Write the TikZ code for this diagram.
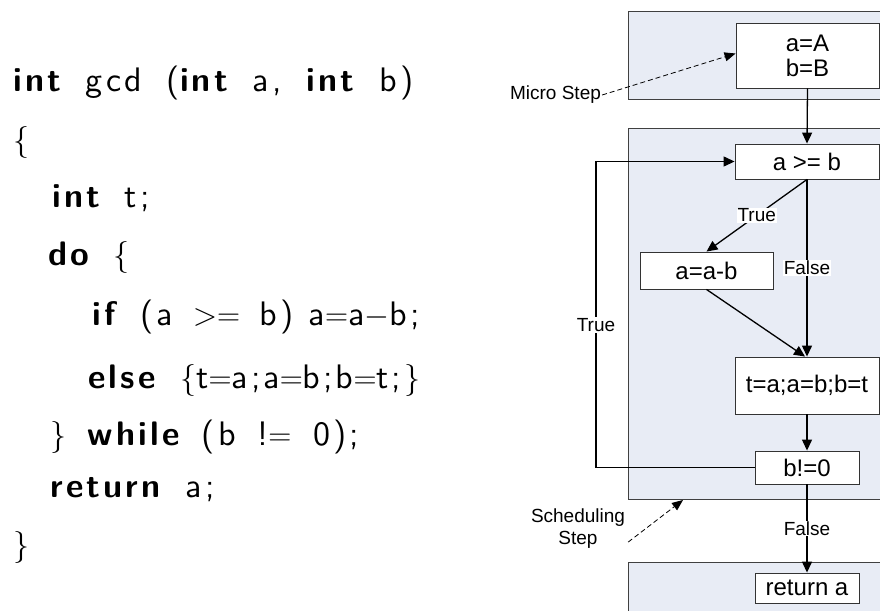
\RequirePackage{fix-cm}
\documentclass[tikz,border=0pt]{standalone}
\usepackage{fontspec}
\setsansfont{Liberation Sans}
\newfontfamily\codefont{lmsans10}[Extension=.otf, UprightFont=*-regular, BoldFont=*-bold, LetterSpace=9.5, WordSpace=1.7]
\newcommand{\mth}[1]{{\fontsize{32}{36}\selectfont$#1$}}
\newcommand{\semi}{\kern3pt;\kern3pt}
\usetikzlibrary{arrows.meta}
\definecolor{panelfill}{HTML}{E8ECF5}
\tikzset{
  panel/.style={draw=black!75, line width=0.9pt, fill=panelfill},
  stmt/.style={draw=black!80, line width=0.9pt, fill=white, font=\sffamily\fontsize{24}{27}\selectfont, inner sep=0pt, align=center},
  conn/.style={line width=1.3pt, -{Triangle[length=11pt,width=10pt]}},
  lbl/.style={fill=white, inner sep=1pt, font=\sffamily\fontsize{19}{22}\selectfont, align=center},
  note/.style={line width=0.8pt, dash pattern=on 5pt off 3pt, -{Triangle[length=11pt,width=9pt]}},
  codeline/.style={anchor=base west, inner sep=0pt, font=\codefont\fontsize{34}{39}\selectfont}
}
\begin{document}
\begin{tikzpicture}[x=1pt,y=-1pt]
\useasboundingbox (0,0) rectangle (880,610);
% code listing
\node[codeline] (l1) at (13,92) {{\bfseries int} gcd ({\bfseries int} a, {\bfseries int} b)};
\node[codeline] (l2) at (13,150) {\mth{\{}};
\node[codeline] (l3) at (52,207) {{\bfseries int} t;};
\node[codeline] (l4) at (48,265) {{\bfseries do} \mth{\{}};
\node[codeline] (l5) at (92,325) {{\bfseries if} (a \kern-5pt\mth{>=} \kern-5pt b) \kern-10pt a\mth{=}a\mth{-}b;};
\node[codeline] (l6) at (88,388) {{\bfseries else} \mth{\{}t\mth{=}a\semi a\mth{=}b\semi b\mth{=}t\semi\mth{\}}};
\node[codeline] (l7) at (50,445) {\mth{\}} \kern-3pt{\bfseries while} \kern-3pt(b \kern-3pt!\mth{=} \kern-3pt0);};
\node[codeline] (l8) at (50,497) {{\bfseries return} a;};
\node[codeline] (l9) at (13,555) {\mth{\}}};
% panels
\begin{scope}
\clip (0,0) rectangle (880,610);
\draw[panel] (628,11) rectangle (900,99);
\draw[panel] (628,128) rectangle (900,499);
\draw[panel] (628,562) rectangle (900,630);
\end{scope}
% statements
\node[stmt, minimum width=143pt, minimum height=65pt] (A) at (807.5,55.5) {a=A\\[-2pt]b=B};
\node[stmt, minimum width=144pt, minimum height=35pt] (ab) at (807,161.5) {a >= b};
\node[stmt, minimum width=133pt, minimum height=37pt] (amb) at (706.5,270.5) {a=a-b};
\node[stmt, minimum width=144pt, minimum height=57pt] (t) at (807,385.5) {t=a;a=b;b=t};
\node[stmt, minimum width=104pt, minimum height=33pt] (bne) at (807,467.5) {b!=0};
\node[stmt, minimum width=104pt, minimum height=30pt] (ret) at (807,588) {return a};
\coordinate (lp) at (596,0);
\coordinate (sst) at (683,500);
% connectors
\draw[conn] (A.south) -- (ab.north);
\draw[conn] (ab.south) -- (amb.north) node[lbl, midway] (lt) {True};
\draw[conn] (ab.south) -- (t.north) node[lbl, pos=0.5] (lf) {False};
\draw[conn] (amb.south) -- ([xshift=-2pt]t.north);
\draw[conn] (t.south) -- (bne.north);
\draw[conn] (bne.west) -- (bne.west -| lp) -- (ab.west -| lp) -- (ab.west);
\node[lbl] (lt2) at (596,325) {True};
\draw[conn] (bne.south) -- (ret.north) node[lbl, midway] (lf2) {False};
% notes
\node[lbl, fill=none] (micro) at (555.5,95) {Micro Step};
\draw[note] (micro.east) -- ([yshift=2pt]A.west);
\node[lbl, fill=none] (sched) at (578,529) {Scheduling\\Step};
\draw[note] ([xshift=2pt,yshift=8pt]sched.south east) -- (sst);
\end{tikzpicture}
\end{document}
